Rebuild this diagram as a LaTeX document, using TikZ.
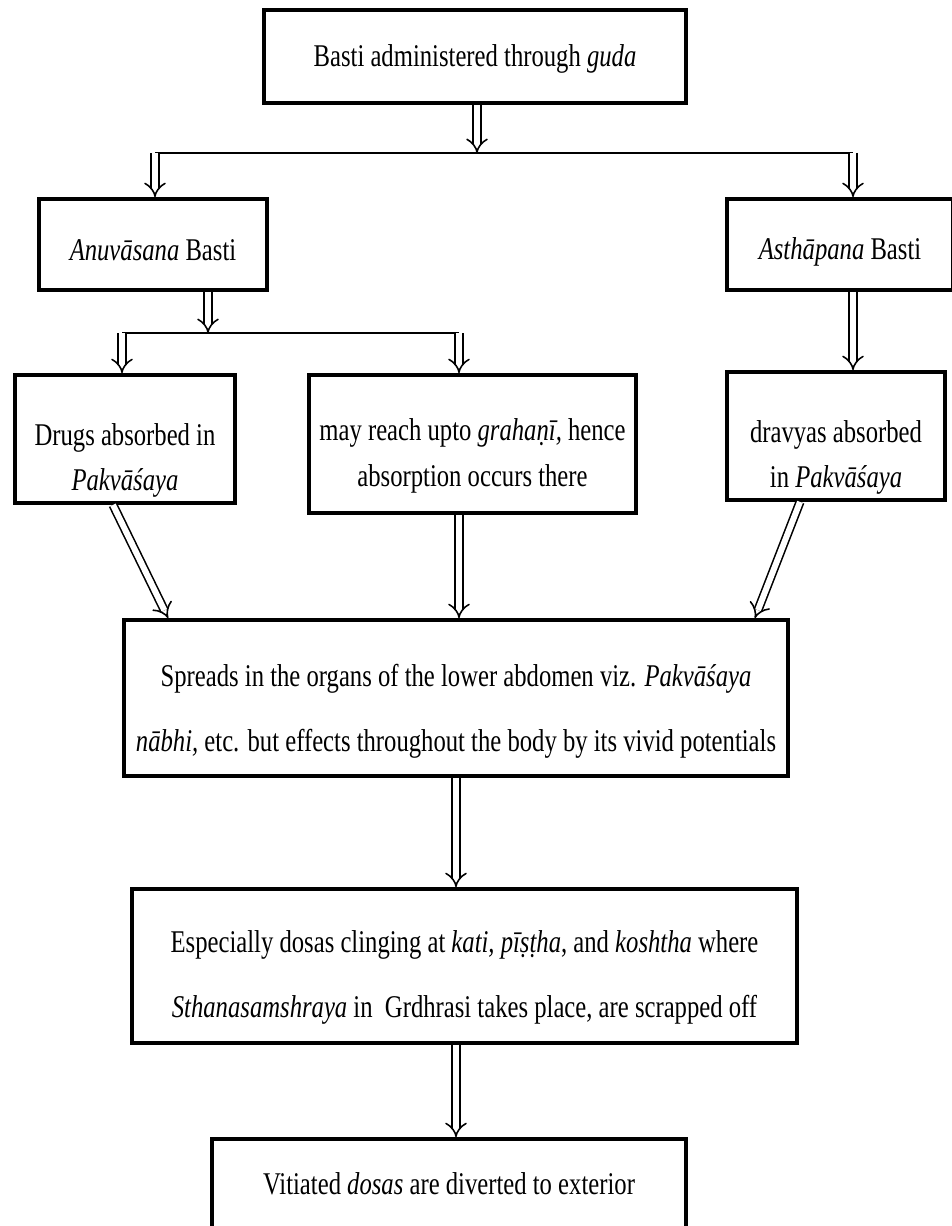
\documentclass[tikz,border=0pt]{standalone}
\usepackage{fontspec}
\setmainfont{Liberation Serif}[FakeStretch=0.78]
\usetikzlibrary{arrows.meta,calc}
\newcommand{\pushdown}[1]{\rule{0pt}{#1}}

\begin{document}
\begin{tikzpicture}[x=0.02cm, y=-0.02cm,
    block/.style={rectangle, draw, line width=2.2pt, align=center, inner sep=2pt, font=\fontsize{18}{26}\selectfont},
    wide/.style={block, font=\fontsize{18}{37}\selectfont},
    arrow/.style={double, double distance=3.4pt, line width=0.9pt, -{Implies}},
    branch/.style={line width=1.2pt}
]
    \useasboundingbox (0,0) rectangle (951,1226);

    % Top level
    \node[block, minimum width=8.44cm, minimum height=1.86cm] (basti) at (475,56.5) {\pushdown{15pt}Basti administered through \textit{guda}};
    \node[block, minimum width=4.56cm, minimum height=1.82cm] (anuvasana) at (153,244.5) {\pushdown{18pt}\textit{Anuvāsana} Basti};
    \node[block, minimum width=4.52cm, minimum height=1.82cm] (asthapana) at (840,244.5) {\pushdown{21pt}\textit{Asthāpana} Basti};

    \coordinate (j1) at (477,153);
    \coordinate (j1l) at (155,153);
    \coordinate (j1r) at (853,153);
    \draw[arrow] (basti.south -| j1) -- (j1);
    \draw[branch] (j1l) -- (j1r);
    \draw[arrow] (j1l) -- (j1l |- anuvasana.north);
    \draw[arrow] (j1r) -- (j1r |- asthapana.north);

    % Absorption
    \node[block, minimum width=4.40cm, minimum height=2.56cm] (drugs) at (125,439) {\pushdown{37pt}Drugs absorbed in\\\textit{Pakvāśaya}};
    \node[block, minimum width=6.54cm, minimum height=2.76cm] (grahani) at (472.5,444) {\pushdown{26pt}may reach upto \textit{grahaṇī,} hence\\absorption occurs there};
    \node[block, minimum width=4.36cm, minimum height=2.56cm] (dravyas) at (836,436) {\pushdown{37pt}dravyas absorbed\\in \textit{Pakvāśaya}};

    \coordinate (j2) at (208,333);
    \coordinate (j2l) at (122,333);
    \coordinate (j2r) at (459,333);
    \draw[arrow] (j2 |- anuvasana.south) -- (j2);
    \draw[branch] (j2l) -- (j2r);
    \draw[arrow] (j2l) -- (j2l |- drugs.north);
    \draw[arrow] (j2r) -- (j2r |- grahani.north);
    \draw[arrow] (j1r |- asthapana.south) -- (j1r |- dravyas.north);

    % Spreading and removal
    \node[wide, minimum width=13.28cm, minimum height=3.12cm] (spreads) at (456,698) {\pushdown{28pt}Spreads in the organs of the lower abdomen viz. \textit{Pakvāśaya}\\\textit{nābhi,} etc. but effects throughout the body by its vivid potentials};
    \node[wide, minimum width=13.30cm, minimum height=3.08cm] (dosas) at (464.5,966) {\pushdown{26pt}Especially dosas clinging at \textit{kati, pīṣṭha}, and \textit{koshtha} where\\\textit{Sthanasamshraya} in~ Grdhrasi takes place, are scrapped off};
    \node[block, minimum width=9.48cm, minimum height=1.78cm] (exterior) at (449,1183.5) {Vitiated \textit{dosas} are diverted to exterior};

    \draw[arrow] ($(drugs.south)+(-12,0)$) -- ($(spreads.north west)+(46,0)$);
    \draw[arrow] (j2r |- grahani.south) -- (j2r |- spreads.north);
    \draw[arrow] ($(dravyas.south)+(-36,0)$) -- ($(spreads.north east)+(-35,0)$);
    \draw[arrow] (spreads.south) -- (spreads.south |- dosas.north);
    \draw[arrow] (spreads.south |- dosas.south) -- (spreads.south |- exterior.north);
\end{tikzpicture}
\end{document}
